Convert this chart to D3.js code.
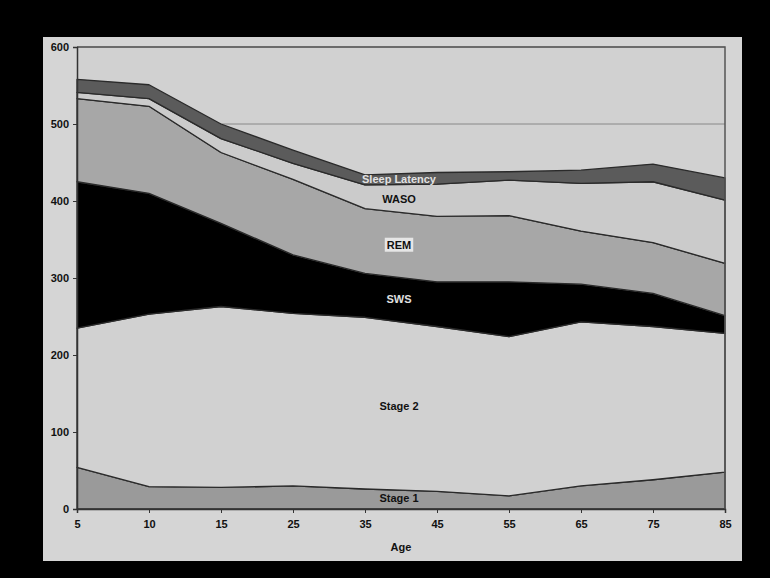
<!DOCTYPE html>
<html lang="en">
<head>
<meta charset="UTF-8">
<title>Sleep stages by age</title>
<script src="https://d3js.org/d3.v7.min.js"></script>
<style>
    body { margin: 0; background: #000; }
    svg { display: block; }
    .tick text { font-family: "Liberation Sans", Arial, sans-serif; font-weight: bold; font-size: 11px; fill: #111; }
    .lbl { font-family: "Liberation Sans", Arial, sans-serif; font-weight: bold; font-size: 11px; text-anchor: middle; }
</style>
</head>
<body>
<svg width="770" height="578"></svg>
<script>
    // ages along the x axis (category axis, evenly spaced)
    const ages = ["5", "10", "15", "25", "35", "45", "55", "65", "75", "85"];

    // minutes per stage
    const stage1       = [54, 29, 28, 30, 26, 23, 17, 30, 38, 48];
    const stage2       = [181, 224, 235, 224, 223, 214, 207, 213, 199, 180];
    const sws          = [190, 157, 108, 76, 57, 58, 71, 49, 43, 23];
    const rem          = [108, 113, 92, 98, 84, 85, 86, 69, 66, 68];
    const waso         = [8, 10, 18, 21, 31, 42, 46, 62, 79, 82];
    const sleepLatency = [17, 18, 19, 17, 13, 15, 11, 17, 23, 29];

    const yTicks = [0, 100, 200, 300, 400, 500, 600];

    const keys = ["Stage 1", "Stage 2", "SWS", "REM", "WASO", "Sleep Latency"];
    const series = [stage1, stage2, sws, rem, waso, sleepLatency];
    const fills = ["#9a9a9a", "#d1d1d1", "#000000", "#a7a7a7", "#cbcbcb", "#5b5b5b"];

    const rows = ages.map((a, i) => {
        let r = { age: a };
        keys.forEach((k, j) => r[k] = series[j][i]);
        return r;
    });

    const svg = d3.select("svg");

    // light panel behind the chart
    svg.append("rect")
        .attr("x", 43).attr("y", 37)
        .attr("width", 699).attr("height", 524)
        .attr("fill", "#d5d5d5");

    const pLeft = 77, pRight = 725, pTop = 47, pBottom = 509;

    const x = d3.scalePoint().domain(ages).range([pLeft, pRight]);
    const y = d3.scaleLinear().domain([0, 600]).range([pBottom, pTop]);

    // plot area
    svg.append("rect")
        .attr("x", pLeft).attr("y", pTop)
        .attr("width", pRight - pLeft).attr("height", pBottom - pTop)
        .attr("fill", "#d1d1d1");

    // gridlines
    svg.append("g").selectAll("line")
        .data(yTicks.slice(1))
        .join("line")
        .attr("x1", pLeft).attr("x2", pRight)
        .attr("y1", d => y(d)).attr("y2", d => y(d))
        .attr("stroke", "#888").attr("stroke-width", 1);

    const stacked = d3.stack().keys(keys)(rows);

    const area = d3.area()
        .x(d => x(d.data.age))
        .y0(d => y(d[0]))
        .y1(d => y(d[1]));

    svg.append("g").selectAll("path")
        .data(stacked)
        .join("path")
        .attr("d", area)
        .attr("fill", (d, i) => fills[i])
        .attr("stroke", "#2a2a2a")
        .attr("stroke-width", 1.3)
        .attr("stroke-linejoin", "round");

    // frame of the plot area (top and right)
    svg.append("path")
        .attr("d", `M${pLeft},${pTop}H${pRight}V${pBottom}`)
        .attr("fill", "none")
        .attr("stroke", "#555").attr("stroke-width", 1.5);

    // axes
    const yAxis = d3.axisLeft(y).tickValues(yTicks).tickSize(4).tickPadding(4);
    const gy = svg.append("g").attr("transform", `translate(${pLeft},0)`).call(yAxis);
    gy.select(".domain").attr("stroke", "#333").attr("stroke-width", 1.5);
    gy.selectAll(".tick line").attr("stroke", "#333");

    const xAxis = d3.axisBottom(x).tickSize(4).tickPadding(7);
    const gx = svg.append("g").attr("transform", `translate(0,${pBottom})`).call(xAxis);
    gx.select(".domain").attr("stroke", "#333").attr("stroke-width", 1.5);
    gx.selectAll(".tick line").attr("stroke", "#333");

    svg.append("text").attr("class", "lbl")
        .attr("x", (pLeft + pRight) / 2).attr("y", 551)
        .attr("fill", "#111").text("Age");

    // stage labels inside the bands, near the 35-45 column
    const lx = 399;
    const labels = [
        { t: "Stage 1", v: 14, c: "#111" },
        { t: "Stage 2", v: 134, c: "#111" },
        { t: "SWS", v: 272, c: "#e0e0e0" },
        { t: "REM", v: 343, c: "#111", box: true },
        { t: "WASO", v: 403, c: "#111" },
        { t: "Sleep Latency", v: 428, c: "#e2e2e2" }
    ];
    labels.forEach(l => {
        const t = svg.append("text").attr("class", "lbl")
            .attr("x", lx).attr("y", y(l.v))
            .attr("dy", "0.35em")
            .attr("fill", l.c)
            .text(l.t);
        if (l.box) {
            const b = t.node().getBBox();
            svg.insert("rect", () => t.node())
                .attr("x", b.x - 2).attr("y", b.y - 1)
                .attr("width", b.width + 4).attr("height", b.height + 2)
                .attr("fill", "#e6e6e6");
        }
    });
</script>
</body>
</html>
